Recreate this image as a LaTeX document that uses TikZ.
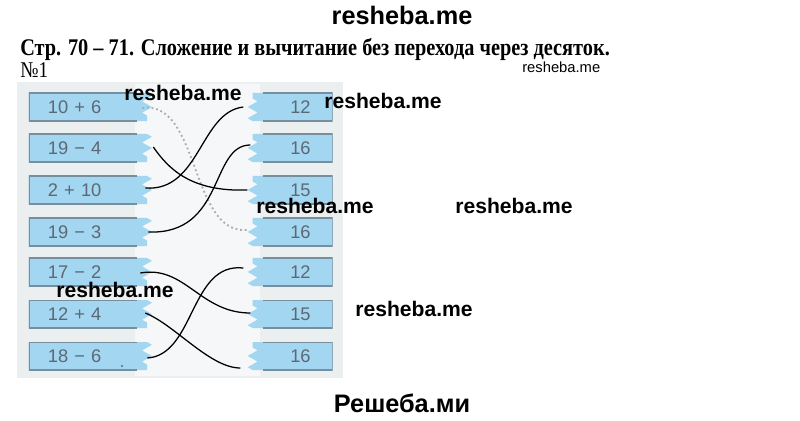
\documentclass[tikz,border=0pt]{standalone}
\usepackage{fontspec}
\setmainfont{Liberation Sans}
\newfontfamily\headfont{Liberation Serif}
\usetikzlibrary{positioning,decorations.pathmorphing}
\definecolor{cardblue}{RGB}{163,214,240}
\definecolor{cardline}{RGB}{118,142,158}
\definecolor{cardtext}{RGB}{92,104,116}
\definecolor{panelgray}{RGB}{236,239,240}
\definecolor{panellight}{RGB}{246,247,248}

\begin{document}
\begin{tikzpicture}[
        x=0.025cm, y=-0.025cm,
        leftcard/.style={
            rectangle,
            minimum width=3.1cm,
            minimum height=0.7cm,
            inner xsep=0.475cm,
            text width=2.15cm,
            align=left,
            text=cardtext,
            font=\fontsize{13}{13}\selectfont,
            path picture={
                \fill[cardblue] (path picture bounding box.north west)
                    -- ([xshift=-0.15cm]path picture bounding box.north east)
                    decorate[decoration={zigzag, segment length=8pt, amplitude=3.5pt}]
                    {-- ([xshift=-0.15cm]path picture bounding box.south east)}
                    -- (path picture bounding box.south west) -- cycle;
                \draw[cardline, line width=1.6pt]
                    ([xshift=-0.4cm]path picture bounding box.north east)
                    -- (path picture bounding box.north west)
                    -- (path picture bounding box.south west)
                    -- ([xshift=-0.4cm]path picture bounding box.south east);
            }
        },
        rightcard/.style={
            rectangle,
            minimum width=2.2cm,
            minimum height=0.7cm,
            inner xsep=0.55cm,
            text width=1.1cm,
            align=right,
            text=cardtext,
            font=\fontsize{13}{13}\selectfont,
            path picture={
                \fill[cardblue] (path picture bounding box.north east)
                    -- (path picture bounding box.south east)
                    -- ([xshift=0.2cm]path picture bounding box.south west)
                    decorate[decoration={zigzag, segment length=8pt, amplitude=3.5pt}]
                    {-- ([xshift=0.2cm]path picture bounding box.north west)}
                    -- cycle;
                \draw[cardline, line width=1.6pt]
                    ([xshift=0.45cm]path picture bounding box.north west)
                    -- (path picture bounding box.north east)
                    -- (path picture bounding box.south east)
                    -- ([xshift=0.45cm]path picture bounding box.south west);
            }
        },
        link/.style={
            black,
            line width=0.9pt
        },
        hint/.style={
            gray!65,
            dotted,
            line width=1.3pt
        },
        wmark/.style={
            font=\fontsize{15}{15}\selectfont\bfseries,
            inner sep=0pt
        }
    ]

    \useasboundingbox (0,0) rectangle (800,420);

    % page heading
    \node[wmark, font=\fontsize{18}{18}\selectfont\bfseries] (site) at (402,15) {resheba.me};
    \node[anchor=base west, inner sep=0pt, font=\headfont\bfseries\fontsize{17}{17}\selectfont] (head) at (20,56) {\scalebox{0.85}[1]{Стр. 70 – 71. Сложение и вычитание без перехода через десяток.}};
    \node[anchor=west, inner sep=0pt, font=\headfont\fontsize{16}{16}\selectfont] (task) at (20,70) {\scalebox{0.85}[1]{№1}};
    \node[anchor=west, inner sep=0pt, font=\fontsize{10.5}{10.5}\selectfont] (site2) at (522,67) {resheba.me};

    % the exercise picture
    \fill[panelgray] (17,82) rectangle (343,378);
    \fill[panellight] (135,84) rectangle (260,376);

    % sums and differences on the left
    \node[leftcard] (l1) at (91,107) {10 + 6};
    \node[leftcard] (l2) at (91,148) {19 − 4};
    \node[leftcard] (l3) at (91,190) {2 + 10};
    \node[leftcard] (l4) at (91,232) {19 − 3};
    \node[leftcard] (l5) at (91,272) {17 − 2};
    \node[leftcard] (l6) at (91,314) {12 + 4};
    \node[leftcard] (l7) at (91,356) {18 − 6};

    % answers on the right
    \node[rightcard, right=2.275cm of l1] (r1) {12};
    \node[rightcard, right=2.275cm of l2] (r2) {16};
    \node[rightcard, right=2.275cm of l3] (r3) {15};
    \node[rightcard, right=2.275cm of l4] (r4) {16};
    \node[rightcard, right=2.275cm of l5] (r5) {12};
    \node[rightcard, right=2.275cm of l6] (r6) {15};
    \node[rightcard, right=2.275cm of l7] (r7) {16};

    \fill[cardtext] (122,366) circle (1.2);

    % matching lines
    \draw[hint] ([shift={(-11,1)}]l1.east) .. controls (200,100) and (190,235) .. ([shift={(3,-2)}]r4.west);
    \draw[link] ([shift={(0,-1)}]l2.east) .. controls (168,168) and (190,192) .. ([shift={(3,0)}]r3.west);
    \draw[link] ([shift={(-8,-2)}]l3.east) .. controls (200,192) and (200,112) .. ([shift={(-1,0)}]r1.west);
    \draw[link] ([shift={(-5,0)}]l4.east) .. controls (225,235) and (210,145) .. ([shift={(6,-3)}]r2.west);
    \draw[link] ([shift={(-13,1)}]l5.east) .. controls (185,265) and (200,313) .. ([shift={(6,-1)}]r6.west);
    \draw[link] ([shift={(-8,-1)}]l6.east) .. controls (175,325) and (210,368) .. ([shift={(-4,12)}]r7.west);
    \draw[link] ([shift={(-6,2)}]l7.east) .. controls (195,355) and (190,262) .. ([shift={(-1,-4)}]r5.west);

    % watermarks
    \node[wmark] (w1) at (183,93) {resheba.me};
    \node[wmark] (w2) at (383,101) {resheba.me};
    \node[wmark] (w3) at (315,206) {resheba.me};
    \node[wmark] (w4) at (514,206) {resheba.me};
    \node[wmark] (w5) at (115,290) {resheba.me};
    \node[wmark] (w6) at (414,309) {resheba.me};
    \node[wmark, font=\fontsize{18}{18}\selectfont\bfseries] (site3) at (402,403) {Решеба.ми};

\end{tikzpicture}
\end{document}
